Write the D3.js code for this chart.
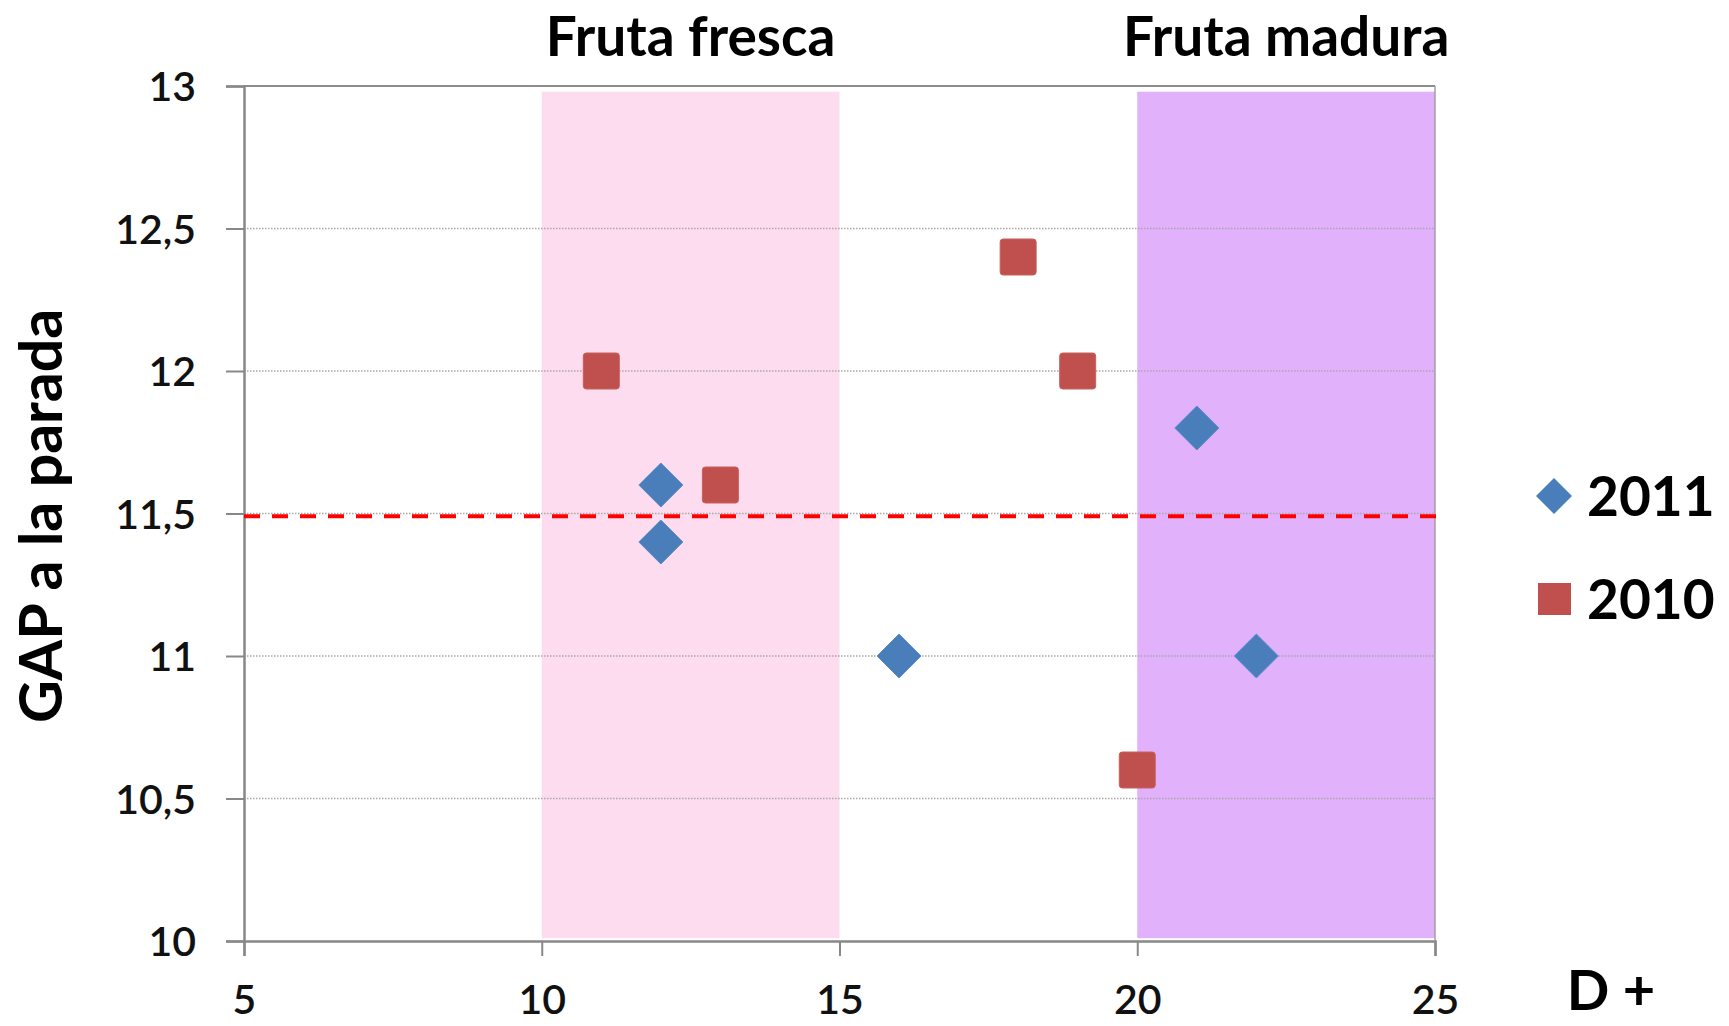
<!DOCTYPE html>
<html><head><meta charset="utf-8">
<script src="https://cdn.jsdelivr.net/npm/d3@7"></script>
<style>html,body{margin:0;padding:0;background:#fff;}svg{display:block;}</style>
</head><body>
<script>
const xTicks = [5, 10, 15, 20, 25];
const yTicks = [10, 10.5, 11, 11.5, 12, 12.5, 13];
const series2011X = [12, 12, 16, 21, 22];
const series2011Y = [11.6, 11.4, 11.0, 11.8, 11.0];
const series2010X = [11, 13, 18, 19, 20];
const series2010Y = [12.0, 11.6, 12.4, 12.0, 10.6];
const bandNames = ["Fruta fresca", "Fruta madura"];
const bandStart = [10, 20];
const bandEnd = [15, 25];
const thresholdValue = 11.49;
const legendNames = ["2011", "2010"];

(function () {
const W = 1729, H = 1026;
const mLeft = 244, mRight = 1435, mTop = 86, mBottom = 941;
const font = "Lato, 'Open Sans', sans-serif";
const blue = "#4a7ebb", red = "#c0504d";

const svg = d3.select("body").append("svg").attr("width", W).attr("height", H);
const x = d3.scaleLinear().domain([5, 25]).range([mLeft, mRight]);
const y = d3.scaleLinear().domain([10, 13]).range([mBottom, mTop]);

// bands
const bandColors = ["#fcdcee", "#e2b1fc"];
svg.selectAll("rect.band").data(bandStart).enter().append("rect")
  .attr("x", (d) => x(d))
  .attr("width", (d, i) => x(bandEnd[i]) - x(d))
  .attr("y", y(12.98)).attr("height", y(10.01) - y(12.98))
  .attr("fill", (d, i) => bandColors[i]);

// gridlines
svg.selectAll("line.grid").data(yTicks.filter(v => v > 10 && v < 13)).enter().append("line")
  .attr("x1", mLeft).attr("x2", mRight).attr("y1", d => y(d)).attr("y2", d => y(d))
  .attr("stroke", "#a8a8a8").attr("stroke-width", 1.3).attr("stroke-dasharray", "1.5,1.5");

// frame
svg.append("line").attr("x1", mLeft).attr("x2", mRight).attr("y1", y(13)).attr("y2", y(13))
  .attr("stroke", "#8c8c8c").attr("stroke-width", 2);
svg.append("line").attr("x1", mRight).attr("x2", mRight).attr("y1", y(13)).attr("y2", y(10))
  .attr("stroke", "#a0a0a0").attr("stroke-width", 1.5);

// axes
const yAxis = d3.axisLeft(y).tickValues(yTicks).tickSize(18).tickPadding(30)
  .tickFormat(d => d3.format(".1~f")(d).replace(".", ","));
const gy = svg.append("g").attr("transform", `translate(${mLeft},0)`).call(yAxis);
const xAxis = d3.axisBottom(x).tickValues(xTicks).tickSize(15).tickPadding(29).tickFormat(d3.format("d"));
const gx = svg.append("g").attr("transform", `translate(0,${mBottom})`).call(xAxis);
[gx, gy].forEach(g => {
  g.select(".domain").attr("stroke", "#888").attr("stroke-width", 2.5);
  g.selectAll(".tick line").attr("stroke", "#888").attr("stroke-width", 2);
  g.selectAll("text").attr("font-family", font).attr("font-size", 41).attr("font-weight", 600).attr("fill", "#111");
});
gy.selectAll("text").attr("dy", "0.36em");

// threshold line
svg.append("line").attr("x1", mLeft).attr("x2", x(25.1))
  .attr("y1", y(thresholdValue)).attr("y2", y(thresholdValue))
  .attr("stroke", "#ff0000").attr("stroke-width", 4).attr("stroke-dasharray", "16,12");

// markers
const diamond = (s) => `M0,${-s}L${s},0L0,${s}L${-s},0Z`;
svg.selectAll("path.d2011").data(series2011X).enter().append("path")
  .attr("d", diamond(22))
  .attr("transform", (d, i) => `translate(${x(d)},${y(series2011Y[i])})`)
  .attr("fill", blue).attr("stroke", "#5a8cc8").attr("stroke-width", 1);
svg.selectAll("rect.s2010").data(series2010X).enter().append("rect")
  .attr("x", d => x(d) - 18).attr("width", 36).attr("height", 36)
  .attr("y", (d, i) => y(series2010Y[i]) - 18).attr("rx", 3)
  .attr("fill", red).attr("stroke", "#c8605d").attr("stroke-width", 1);

// band titles
svg.selectAll("text.band").data(bandNames).enter().append("text")
  .attr("x", (d, i) => x((bandStart[i] + bandEnd[i]) / 2))
  .attr("y", 56).attr("text-anchor", "middle")
  .attr("font-family", font).attr("font-weight", 700).attr("font-size", 55).attr("fill", "#000")
  .text(d => d);

// axis titles
svg.append("text").attr("transform", "translate(62,516) rotate(-90)").attr("text-anchor", "middle")
  .attr("font-family", font).attr("font-weight", 700).attr("font-size", 59).attr("fill", "#000")
  .text("GAP a la parada");
svg.append("text").attr("x", 1611).attr("y", 1010).attr("text-anchor", "middle")
  .attr("font-family", font).attr("font-weight", 700).attr("font-size", 56).attr("fill", "#000")
  .text("D +");

// legend
const legY = [496, 599];
const lg = svg.selectAll("g.leg").data(legendNames).enter().append("g")
  .attr("transform", (d, i) => `translate(1554,${legY[i]})`);
lg.each(function (d, i) {
  const g = d3.select(this);
  if (i === 0) g.append("path").attr("d", diamond(18)).attr("fill", blue);
  else g.append("rect").attr("x", -16).attr("y", -16).attr("width", 33).attr("height", 32).attr("fill", red);
});
lg.append("text").attr("x", 33).attr("dy", "0.36em")
  .attr("font-family", font).attr("font-weight", 700).attr("font-size", 55).attr("fill", "#000")
  .text(d => d);
})();
</script>
</body></html>
